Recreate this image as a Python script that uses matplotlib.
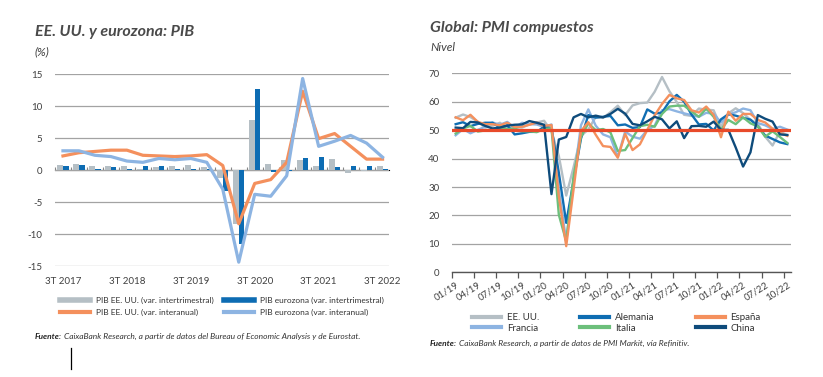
#
# Imports
#
from matplotlib import pyplot as plt
from matplotlib.lines import Line2D
import numpy as np


#
# Global variables
#
plt.rcParams['font.family'] = ['Lato', 'DejaVu Sans']
plt.rcParams['axes.unicode_minus'] = False

# Left chart: GDP, quarters 3T 2017 .. 3T 2022
quarters = ['3T 2017', '4T 2017', '1T 2018', '2T 2018', '3T 2018', '4T 2018',
            '1T 2019', '2T 2019', '3T 2019', '4T 2019', '1T 2020', '2T 2020',
            '3T 2020', '4T 2020', '1T 2021', '2T 2021', '3T 2021', '4T 2021',
            '1T 2022', '2T 2022', '3T 2022']
us_qoq = [0.8, 1.0, 0.6, 0.6, 0.6, 0.1, 0.5, 0.6, 0.8, 0.5, -1.2, -8.4, 7.8,
          0.9, 1.5, 1.6, 0.6, 1.7, -0.4, -0.1, 0.6]
ez_qoq = [0.7, 0.8, 0.1, 0.4, 0.1, 0.6, 0.6, 0.2, 0.2, 0.1, -3.3, -11.6, 12.6,
          -0.3, -0.1, 1.9, 2.0, 0.4, 0.6, 0.6, 0.1]
us_yoy = [2.2, 2.7, 2.9, 3.1, 3.1, 2.3, 2.2, 2.1, 2.2, 2.4, 0.7, -8.4, -2.1,
          -1.5, 1.2, 12.3, 4.9, 5.7, 3.7, 1.7, 1.7]
ez_yoy = [3.0, 3.0, 2.3, 2.1, 1.4, 1.2, 1.8, 1.6, 1.8, 1.2, -3.0, -14.4, -3.8,
          -4.1, -0.9, 14.3, 3.7, 4.5, 5.4, 4.2, 2.0]

# Right chart: composite PMI, monthly 01/19 .. 10/22
month_labels = ['01/19', '04/19', '07/19', '10/19', '01/20', '04/20', '07/20',
                '10/20', '01/21', '04/21', '07/21', '10/21', '01/22', '04/22',
                '07/22', '10/22']
pmi_us = [54.4, 55.5, 54.6, 53.0, 50.9, 51.5, 52.6, 50.7, 51.0, 50.9, 52.0, 52.7,
          53.3, 49.6, 40.9, 27.0, 37.0, 47.9, 50.3, 54.6, 54.3, 56.3, 58.6, 55.3,
          58.7, 59.5, 59.7, 63.5, 68.7, 63.7, 59.9, 55.4, 55.0, 57.6, 57.2, 57.0,
          51.1, 55.9, 57.7, 56.0, 53.6, 52.3, 47.7, 44.6, 49.5, 48.2]
pmi_de = [52.1, 52.8, 51.4, 52.2, 52.6, 52.6, 50.9, 51.7, 48.5, 48.9, 49.4, 49.4,
          51.2, 50.7, 35.0, 17.4, 32.3, 47.0, 55.3, 54.4, 54.7, 55.0, 51.7, 52.0,
          50.8, 51.1, 57.3, 55.8, 56.2, 60.1, 62.4, 60.0, 55.5, 52.0, 52.2, 49.9,
          53.8, 55.6, 55.1, 54.3, 53.7, 51.3, 48.1, 46.9, 45.7, 45.1]
pmi_es = [54.5, 53.5, 55.4, 52.9, 52.1, 52.1, 51.7, 52.6, 51.1, 51.2, 51.9, 52.7,
          51.5, 51.8, 26.7, 9.2, 29.2, 49.7, 52.8, 48.4, 44.4, 44.1, 40.3, 48.7,
          43.0, 45.0, 50.1, 55.2, 59.2, 62.4, 61.2, 60.6, 57.0, 56.2, 58.3, 55.4,
          47.5, 56.5, 53.3, 55.7, 55.7, 53.6, 52.7, 50.5, 49.0, 48.0]
pmi_fr = [48.2, 50.4, 48.9, 50.1, 51.2, 52.7, 51.9, 52.9, 50.8, 52.6, 52.1, 52.0,
          51.1, 52.0, 28.9, 11.1, 32.1, 51.7, 57.3, 51.6, 48.5, 47.5, 40.6, 49.5,
          47.7, 47.0, 50.0, 51.6, 57.0, 57.4, 56.6, 55.9, 55.3, 54.7, 56.1, 55.8,
          52.7, 55.5, 56.3, 57.6, 57.0, 52.5, 51.7, 50.4, 51.2, 50.2]
pmi_it = [48.8, 50.6, 51.5, 49.5, 49.9, 50.1, 51.0, 50.3, 50.6, 49.6, 49.6, 49.3,
          50.4, 50.7, 20.2, 10.9, 33.9, 47.6, 52.4, 50.0, 50.4, 49.2, 42.7, 43.0,
          47.2, 51.4, 51.9, 51.2, 55.7, 58.3, 58.6, 58.6, 56.6, 54.7, 57.6, 54.7,
          50.1, 53.6, 52.1, 54.5, 52.4, 51.3, 47.7, 49.6, 47.6, 45.5]
pmi_cn = [50.9, 50.7, 52.9, 52.7, 51.5, 50.6, 50.9, 51.6, 51.9, 52.0, 53.2, 52.6,
          51.9, 27.5, 46.7, 47.6, 54.5, 55.7, 54.5, 55.1, 54.5, 55.7, 57.5, 55.8,
          52.2, 51.7, 53.1, 54.7, 53.8, 50.6, 53.1, 47.2, 51.4, 51.5, 51.2, 53.0,
          50.1, 50.1, 43.9, 37.2, 42.2, 55.3, 54.0, 53.0, 48.5, 48.3]

TXT = '#404040'
GRID = '#a3a3a3'


#
# Private functions
#
def footnote(fig, x, y, rest):
    t = fig.text(x, y, 'Fuente:', fontsize=6.0, style='italic',
                 weight='bold', color='#222222', va='baseline')
    fig.axes[0].annotate(rest, xy=(1, 0), xycoords=t, xytext=(1.2, 0),
                         textcoords='offset points', va='bottom',
                         ha='left', fontsize=6.0, style='italic',
                         color='#333333', annotation_clip=False)


#
# main
#
if __name__ == "__main__":
    fig = plt.figure(figsize=(8.23, 3.77), dpi=100)

    # ---- left: GDP
    ax = fig.add_axes([0.0668, 0.2944, 0.4058, 0.5093])
    x = np.arange(len(quarters))
    w = 0.35
    ax.bar(x - w / 2, us_qoq, w, color='#b5bfc5', zorder=2)
    ax.bar(x + w / 2, ez_qoq, w, color='#0d6cb3', zorder=2)
    ax.plot(x, us_yoy, color='#f4905d', lw=2.3, zorder=3)
    ax.plot(x, ez_yoy, color='#8db4e2', lw=2.3, zorder=4)
    ax.set_xlim(-0.5, 20.4)
    ax.set_ylim(-15, 15)
    ax.set_yticks(range(-15, 16, 5))
    ax.grid(axis='y', color=GRID, lw=0.9, zorder=0)
    for s in ax.spines.values():
        s.set_visible(False)
    ax.tick_params(axis='y', length=0, pad=9, labelsize=7, labelcolor=TXT)
    ax.set_xticks(x[::4])
    ax.set_xticklabels(quarters[::4])
    ax.tick_params(axis='x', length=0, pad=8, labelsize=7, labelcolor=TXT)
    zx = ax.secondary_xaxis(0.5)
    zx.set_xticks(np.arange(-0.5, 20.5, 1.0))
    zx.set_xticklabels([])
    zx.tick_params(length=2.5, color='#888888', width=0.8)
    zx.spines['bottom'].set_visible(False)

    fig.text(0.0425, 0.905, 'EE. UU. y eurozona: PIB', fontsize=11.5,
             weight='bold', style='italic', color='#4a4a4a')
    fig.text(0.0425, 0.852, '(%)', fontsize=8.5, style='italic', color=TXT)

    hl = [Line2D([], [], color='#b5bfc5', lw=4),
          Line2D([], [], color='#f4905d', lw=3),
          Line2D([], [], color='#0d6cb3', lw=4),
          Line2D([], [], color='#8db4e2', lw=3)]
    fig.legend(hl, ['PIB EE. UU. (var. intertrimestral)',
                    'PIB EE. UU. (var. interanual)',
                    'PIB eurozona (var. intertrimestral)',
                    'PIB eurozona (var. interanual)'],
               ncol=2, loc='upper left', bbox_to_anchor=(0.064, 0.232),
               frameon=False, fontsize=6.0, handlelength=3.6,
               columnspacing=1.2, labelspacing=0.6, handletextpad=0.7,
               labelcolor='#333333')

    footnote(fig, 0.0425, 0.100,
             'CaixaBank Research, a partir de datos del Bureau of Economic '
             'Analysis y de Eurostat.')

    # stray mark under the left footnote
    fig.add_artist(Line2D([0.0863, 0.0863], [0.02, 0.077], color='black',
                          lw=0.9, transform=fig.transFigure))

    # ---- right: PMI
    ax2 = fig.add_axes([0.5492, 0.2777, 0.4119, 0.5279])
    m = np.arange(len(pmi_us))
    lw = 1.7
    ax2.plot(m, pmi_us, color='#b5bfc5', lw=lw, zorder=3)
    ax2.plot(m, pmi_fr, color='#8db4e2', lw=lw, zorder=3)
    ax2.plot(m, pmi_de, color='#0f6db2', lw=lw, zorder=3)
    ax2.plot(m, pmi_it, color='#6cbf7b', lw=lw, zorder=3)
    ax2.plot(m, pmi_es, color='#f4905d', lw=lw, zorder=3)
    ax2.plot(m, pmi_cn, color='#0e4b7b', lw=lw, zorder=3)
    ax2.axhline(50, color='#e84a2a', lw=2.3, zorder=5)
    ax2.set_xlim(-0.5, len(m) - 0.5)
    ax2.set_ylim(0, 70)
    ax2.set_yticks(range(0, 71, 10))
    ax2.grid(axis='y', color=GRID, lw=0.9, zorder=0)
    for k in ['top', 'right', 'left']:
        ax2.spines[k].set_visible(False)
    ax2.spines['bottom'].set_color('#555555')
    ax2.spines['bottom'].set_linewidth(1.0)
    ax2.tick_params(axis='y', length=0, pad=9, labelsize=7, labelcolor=TXT)
    ax2.set_xticks(np.arange(-0.5, len(m), 3), minor=False)
    ax2.set_xticklabels([])
    ax2.tick_params(axis='x', which='major', length=4, color='#555555',
                    width=0.9)
    ax2.set_xticks(m[::3], minor=True)
    ax2.set_xticklabels(month_labels, minor=True, rotation=32, ha='right',
                        rotation_mode='anchor')
    ax2.tick_params(axis='x', which='minor', length=0, pad=6, labelsize=7,
                    labelcolor=TXT)

    fig.text(0.5225, 0.915, 'Global: PMI compuestos', fontsize=11.5,
             weight='bold', style='italic', color='#4a4a4a')
    fig.text(0.5225, 0.866, 'Nivel', fontsize=8.5, style='italic', color=TXT)

    hr = [Line2D([], [], color='#b5bfc5', lw=3),
          Line2D([], [], color='#8db4e2', lw=3),
          Line2D([], [], color='#0f6db2', lw=3),
          Line2D([], [], color='#6cbf7b', lw=3),
          Line2D([], [], color='#f4905d', lw=3),
          Line2D([], [], color='#0e4b7b', lw=3)]
    fig.legend(hr, ['EE. UU.', 'Francia', 'Alemania', 'Italia', 'España',
                    'China'],
               ncol=3, loc='upper left', bbox_to_anchor=(0.563, 0.192),
               frameon=False, fontsize=7.0, handlelength=3.0,
               columnspacing=4.2, labelspacing=0.15, handletextpad=0.6,
               labelcolor='#333333')

    footnote(fig, 0.5225, 0.083,
             'CaixaBank Research, a partir de datos de PMI Markit, vía '
             'Refinitiv.')

    plt.savefig('out.png', dpi=100)
